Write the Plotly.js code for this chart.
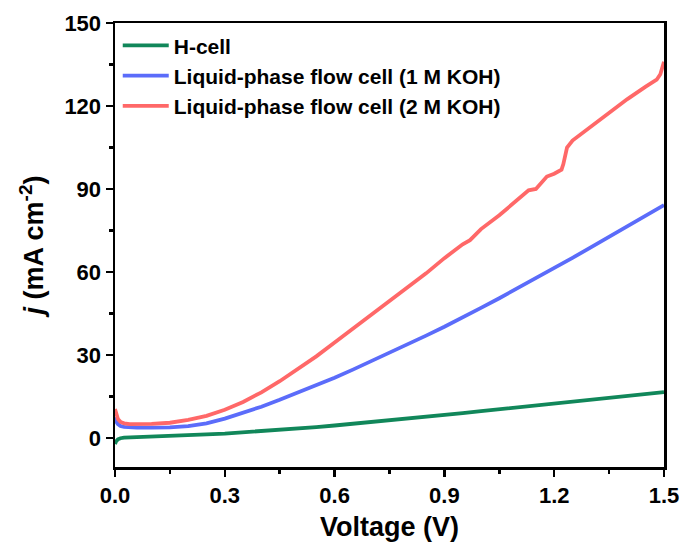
<!DOCTYPE html>
<html>
<head>
<meta charset="utf-8">
<script src="https://cdn.plot.ly/plotly-3.0.1.min.js"></script>
<style>html,body{margin:0;padding:0;background:#fff;}#chart{width:684px;height:546px;}</style>
</head>
<body>
<div id="chart"></div>
<script>
const seriesNames = ["H-cell", "Liquid-phase flow cell (1 M KOH)", "Liquid-phase flow cell (2 M KOH)"];
const voltageGrid = [0, 0.003, 0.008, 0.015, 0.025, 0.04, 0.06, 0.1, 0.15, 0.2, 0.25, 0.3, 0.35, 0.4, 0.45, 0.5, 0.55, 0.6, 0.65, 0.7, 0.75, 0.8, 0.85, 0.9, 0.95, 1.0, 1.05, 1.1, 1.15, 1.2, 1.25, 1.3, 1.35, 1.4, 1.45, 1.5];
const hCell = [-2.2, -1.2, -0.5, -0.1, 0.1, 0.2, 0.3, 0.5, 0.7, 1.0, 1.3, 1.6, 2.0, 2.4, 2.9, 3.4, 3.9, 4.5, 5.1, 5.7, 6.3, 6.9, 7.6, 8.3, 9.0, 9.7, 10.4, 11.0, 11.7, 12.4, 13.1, 13.8, 14.5, 15.2, 15.9, 16.6];
const flow1M = [7.5, 6.0, 5.0, 4.3, 4.0, 3.8, 3.7, 3.7, 3.8, 4.3, 5.3, 7.0, 9.0, 11.3, 13.8, 16.4, 19.0, 21.8, 24.7, 27.7, 30.8, 33.9, 37.0, 40.2, 43.5, 47.0, 50.5, 54.1, 57.7, 61.4, 65.1, 68.9, 72.7, 76.5, 80.3, 84.2];
const voltage2M = [0, 0.003, 0.008, 0.015, 0.025, 0.04, 0.06, 0.1, 0.15, 0.2, 0.25, 0.3, 0.35, 0.4, 0.45, 0.5, 0.55, 0.6, 0.65, 0.7, 0.75, 0.8, 0.85, 0.9, 0.95, 0.97, 1.0, 1.05, 1.1, 1.13, 1.15, 1.18, 1.2, 1.22, 1.225, 1.235, 1.25, 1.3, 1.35, 1.4, 1.45, 1.48, 1.49, 1.5];
const flow2M = [10.5, 8.5, 6.8, 5.8, 5.3, 5.0, 5.0, 5.1, 5.5, 6.5, 8.0, 10.2, 13.0, 16.5, 20.5, 25.0, 29.5, 34.5, 39.5, 44.5, 49.5, 54.5, 59.5, 65.0, 70.0, 71.5, 75.5, 80.5, 86.0, 89.5, 90.0, 94.5, 95.5, 97.0, 99.0, 105.0, 107.5, 112.5, 117.5, 122.5, 127.0, 129.5, 131.5, 136.0];
const xTicks = [0, 0.3, 0.6, 0.9, 1.2, 1.5];
const xTickText = ["0.0", "0.3", "0.6", "0.9", "1.2", "1.5"];
const yTicks = [0, 30, 60, 90, 120, 150];

const colors = ["#11875a", "#5b6cfa", "#ff6868"];
const FONT = "Arial, 'Liberation Sans', sans-serif";

const traces = [
  {x: voltageGrid, y: hCell, name: seriesNames[0]},
  {x: voltageGrid, y: flow1M, name: seriesNames[1]},
  {x: voltage2M, y: flow2M, name: seriesNames[2]}
].map((t, i) => Object.assign(t, {type: "scatter", mode: "lines", line: {color: colors[i], width: 3.8}}));

const axisCommon = {
  showline: true, linecolor: "#000", linewidth: 2.5, mirror: true,
  ticks: "outside", ticklen: 7, tickwidth: 2.5, tickcolor: "#000",
  showgrid: false, zeroline: false,
  tickfont: {family: FONT, size: 22, color: "#000", weight: "bold"}
};

const layout = {
  width: 684, height: 546,
  margin: {l: 115, r: 20, t: 23, b: 79},
  paper_bgcolor: "#fff", plot_bgcolor: "#fff",
  showlegend: true,
  legend: {x: 0.005, y: 0.995, xanchor: "left", yanchor: "top", bgcolor: "rgba(0,0,0,0)",
           font: {family: FONT, size: 21, color: "#000", weight: "bold"},
           traceorder: "normal", itemwidth: 46},
  xaxis: Object.assign({}, axisCommon, {
    range: [0, 1.5], tickvals: xTicks, ticktext: xTickText,
    minor: {dtick: 0.15, ticks: "outside", ticklen: 4, tickwidth: 2.5, tickcolor: "#000", tick0: 0},
    title: {text: "Voltage (V)", font: {family: FONT, size: 27, color: "#000", weight: "bold"}, standoff: 10}
  }),
  yaxis: Object.assign({}, axisCommon, {
    range: [-10.5, 150], tickvals: yTicks,
    minor: {dtick: 15, tick0: 0, ticks: "outside", ticklen: 4, tickwidth: 2.5, tickcolor: "#000"},
    title: {text: "<i>j</i> (mA cm<sup>-2</sup>)", font: {family: FONT, size: 27, color: "#000", weight: "bold"}, standoff: 13}
  })
};

Plotly.newPlot("chart", traces, layout, {displayModeBar: false, staticPlot: true});
</script>
</body>
</html>
